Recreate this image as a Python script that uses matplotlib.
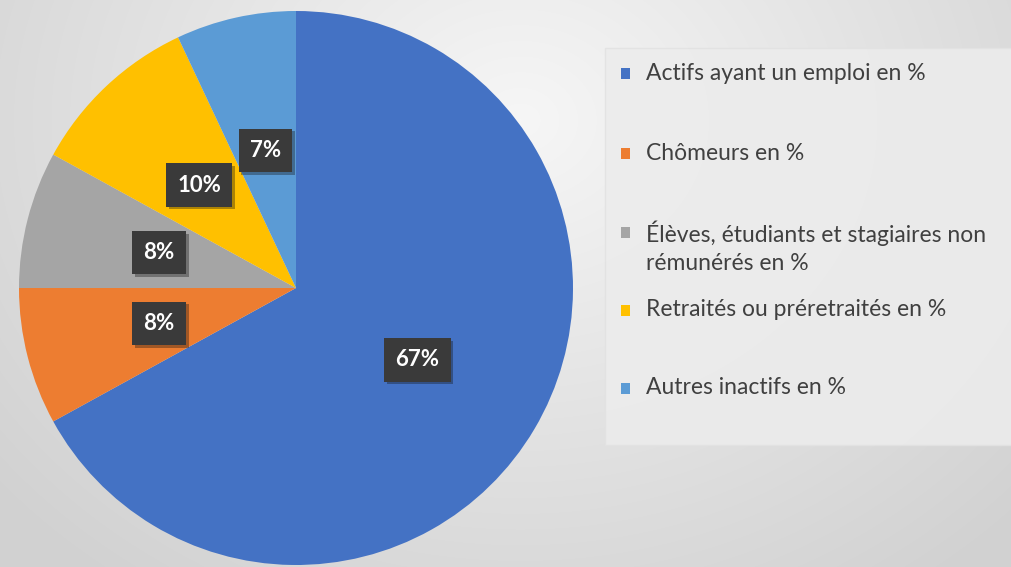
import numpy as np
import matplotlib.pyplot as plt
from matplotlib.patches import Rectangle
import matplotlib.patheffects as pe

# Données du graphique
categories = [
    "Actifs ayant un emploi en %",
    "Chômeurs en %",
    "Élèves, étudiants et stagiaires non\nrémunérés en %",
    "Retraités ou préretraités en %",
    "Autres inactifs en %",
]
valeurs = [67, 8, 8, 10, 7]
couleurs = ["#4472C4", "#ED7D31", "#A5A5A5", "#FFC000", "#5B9BD5"]

W, H = 1012, 567
fig = plt.figure(figsize=(W / 100, H / 100), dpi=100)

# Fond en dégradé radial (gris clair)
bg = fig.add_axes([0, 0, 1, 1])
yy, xx = np.mgrid[0:H, 0:W]
d = np.sqrt(((xx - 520) / 620) ** 2 + ((yy - 120) / 520) ** 2)
g = np.clip(0.965 - 0.13 * d, 0.82, 0.965)
bg.imshow(np.dstack([g, g, g]), extent=[0, W, H, 0], aspect="auto")
bg.set_xlim(0, W)
bg.set_ylim(H, 0)
bg.axis("off")

# Cadre clair derrière la légende
bg.add_patch(Rectangle((605, 48), 420, 397, facecolor="#ececec", edgecolor="#e2e2e2", lw=1, alpha=0.9))

# Camembert
cx, cy, R = 296, 288, 277
ax = fig.add_axes([(cx - R) / W, (H - cy - R) / H, 2 * R / W, 2 * R / H])
wedges, _, autotexts = ax.pie(
    valeurs, colors=couleurs, startangle=90, counterclock=False,
    autopct="%.0f%%", pctdistance=0.51,
    wedgeprops=dict(linewidth=0),
    textprops=dict(color="white", fontsize=16, fontweight="bold", family="Lato"),
)
ax.set_xlim(-1, 1)
ax.set_ylim(-1, 1)
ax.set_aspect("equal")
for t in autotexts:
    t.set_bbox(dict(boxstyle="square,pad=0.5", facecolor="#3a3a3a", edgecolor="none"))
    t.get_bbox_patch().set_path_effects([pe.SimplePatchShadow(offset=(2, -2), alpha=0.35), pe.Normal()])

# Légende à droite
lignes_y = [73, 153, 232, 310, 388]
for nom, coul, y in zip(categories, couleurs, lignes_y):
    bg.add_patch(Rectangle((621, y - 5), 9, 11, facecolor=coul, edgecolor="none"))
    if "\n" in nom:
        bg.text(646, y - 12, nom, fontsize=16.5, color="#404040", family="Lato",
                va="top", ha="left", linespacing=1.45)
    else:
        bg.text(646, y, nom, fontsize=16.5, color="#404040", family="Lato",
                va="center", ha="left")

fig.savefig("out.png", dpi=100)
